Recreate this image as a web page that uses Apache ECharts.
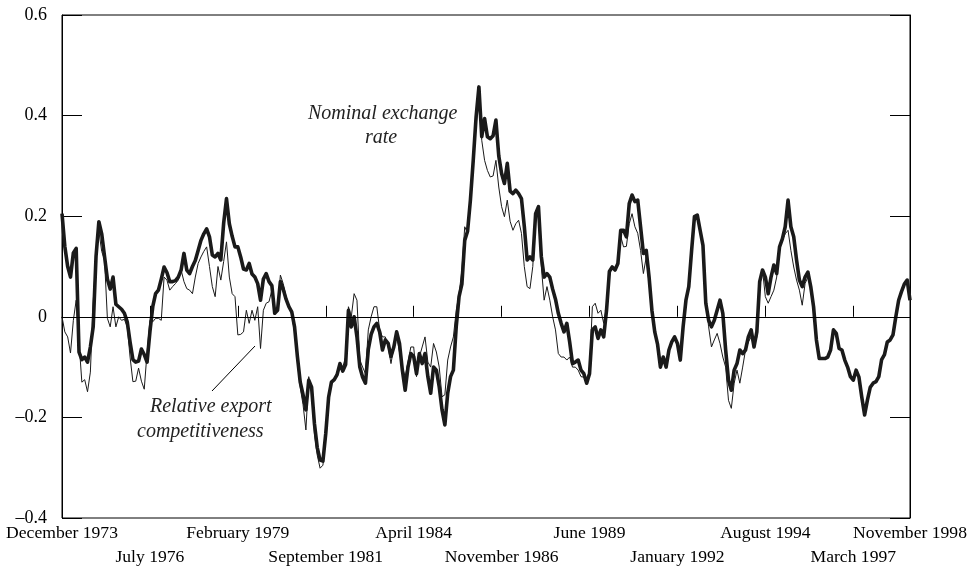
<!DOCTYPE html>
<html>
<head>
<meta charset="utf-8">
<script src="https://cdn.jsdelivr.net/npm/echarts@6/dist/echarts.min.js"></script>
<style>
html,body{margin:0;padding:0;background:#fff;}
#chart{width:975px;height:570px;}
</style>
</head>
<body>
<div id="chart"></div>
<script>
// Monthly observations, December 1973 .. November 1998 (300 months)
var startYear = 1973, startMonth = 11; // December (0-based)
var monthNames = ['January','February','March','April','May','June','July','August','September','October','November','December'];

var tickLabels = ['December 1973','July 1976','February 1979','September 1981','April 1984','November 1986','June 1989','January 1992','August 1994','March 1997','November 1998'];

var nominalExchangeRate = [
0.205,0.14,0.10,0.079,0.127,0.136,-0.07,-0.085,-0.08,-0.09,
-0.06,-0.02,0.12,0.189,0.165,0.12,0.075,0.055,0.079,0.025,
0.02,0.015,0.007,-0.01,-0.05,-0.085,-0.09,-0.088,-0.064,-0.075,
-0.09,-0.03,0.02,0.046,0.053,0.075,0.099,0.088,0.07,0.07,
0.072,0.079,0.093,0.126,0.093,0.086,0.1,0.112,0.132,0.152,
0.165,0.175,0.159,0.123,0.119,0.126,0.113,0.186,0.235,0.185,
0.16,0.139,0.139,0.119,0.095,0.093,0.106,0.085,0.079,0.066,
0.033,0.075,0.086,0.07,0.062,0.007,0.013,0.07,0.055,0.035,
0.02,0.01,-0.02,-0.079,-0.13,-0.155,-0.185,-0.126,-0.14,-0.212,
-0.26,-0.285,-0.287,-0.232,-0.16,-0.13,-0.125,-0.115,-0.093,-0.108,
-0.095,0.013,-0.02,0.0,-0.04,-0.1,-0.12,-0.132,-0.065,-0.035,
-0.02,-0.013,-0.03,-0.066,-0.046,-0.053,-0.079,-0.06,-0.03,-0.053,
-0.106,-0.146,-0.1,-0.073,-0.079,-0.113,-0.073,-0.093,-0.073,-0.119,
-0.152,-0.1,-0.106,-0.139,-0.185,-0.215,-0.152,-0.119,-0.106,-0.02,
0.04,0.065,0.152,0.17,0.232,0.311,0.397,0.457,0.358,0.394,
0.358,0.354,0.36,0.391,0.32,0.285,0.265,0.305,0.25,0.245,
0.252,0.245,0.235,0.18,0.113,0.119,0.113,0.205,0.219,0.12,
0.079,0.086,0.079,0.055,0.035,0.007,-0.013,-0.03,-0.013,-0.05,
-0.093,-0.09,-0.086,-0.106,-0.113,-0.132,-0.113,-0.026,-0.02,-0.043,
-0.026,-0.04,0.013,0.09,0.099,0.093,0.106,0.172,0.172,0.159,
0.225,0.242,0.229,0.232,0.179,0.126,0.132,0.079,0.013,-0.03,
-0.055,-0.1,-0.08,-0.1,-0.066,-0.05,-0.04,-0.053,-0.086,-0.02,
0.033,0.06,0.132,0.199,0.202,0.172,0.142,0.027,-0.007,-0.02,
-0.007,0.013,0.033,0.007,-0.066,-0.126,-0.146,-0.106,-0.093,-0.066,
-0.073,-0.066,-0.04,-0.026,-0.06,-0.03,0.07,0.093,0.079,0.046,
0.079,0.103,0.086,0.139,0.155,0.179,0.232,0.179,0.159,0.113,
0.073,0.06,0.079,0.089,0.06,0.02,-0.046,-0.083,-0.083,-0.083,
-0.08,-0.066,-0.026,-0.033,-0.063,-0.066,-0.086,-0.1,-0.119,-0.126,
-0.106,-0.12,-0.16,-0.195,-0.165,-0.14,-0.132,-0.129,-0.119,-0.085,
-0.075,-0.05,-0.046,-0.036,0.0,0.033,0.05,0.065,0.073,0.033
];

var relativeExportCompetitiveness = [
0.0,-0.03,-0.04,-0.072,-0.007,0.033,-0.05,-0.13,-0.125,-0.149,
-0.11,0.03,0.12,0.17,0.13,0.113,-0.003,-0.02,0.02,-0.02,
0.0,-0.007,-0.005,-0.02,-0.08,-0.129,-0.128,-0.102,-0.128,-0.144,
-0.07,-0.007,-0.01,-0.003,-0.003,-0.007,0.079,0.073,0.053,0.06,
0.066,0.073,0.093,0.07,0.056,0.053,0.046,0.079,0.106,0.119,
0.13,0.139,0.1,0.06,0.04,0.1,0.073,0.11,0.149,0.079,
0.046,0.04,-0.036,-0.035,-0.03,0.013,-0.013,0.013,-0.007,0.02,
-0.063,0.013,0.027,0.03,0.053,0.013,0.013,0.083,0.066,0.04,
0.02,0.005,-0.03,-0.09,-0.14,-0.175,-0.225,-0.119,-0.15,-0.232,
-0.275,-0.301,-0.295,-0.24,-0.16,-0.13,-0.125,-0.11,-0.09,-0.1,
-0.08,0.02,0.0,0.046,0.033,-0.086,-0.1,-0.113,-0.026,0.0,
0.02,0.02,-0.026,-0.04,-0.04,-0.06,-0.093,-0.06,-0.04,-0.07,
-0.1,-0.119,-0.09,-0.06,-0.06,-0.119,-0.08,-0.06,-0.04,-0.09,
-0.1,-0.053,-0.07,-0.1,-0.159,-0.155,-0.086,-0.06,-0.04,0.013,
0.046,0.093,0.179,0.166,0.232,0.3,0.38,0.44,0.351,0.311,
0.291,0.278,0.28,0.311,0.258,0.219,0.199,0.232,0.19,0.172,
0.185,0.192,0.166,0.1,0.06,0.056,0.1,0.205,0.2,0.1,
0.033,0.06,0.033,0.0,-0.026,-0.073,-0.08,-0.08,-0.086,-0.08,
-0.1,-0.1,-0.106,-0.119,-0.12,-0.126,-0.106,0.02,0.027,0.007,
0.013,-0.013,0.02,0.09,0.099,0.093,0.106,0.16,0.139,0.14,
0.185,0.205,0.179,0.166,0.132,0.086,0.119,0.066,0.013,-0.03,
-0.055,-0.1,-0.08,-0.1,-0.066,-0.05,-0.04,-0.053,-0.086,-0.02,
0.033,0.06,0.132,0.19,0.195,0.172,0.142,0.027,-0.02,-0.06,
-0.046,-0.033,-0.053,-0.08,-0.1,-0.166,-0.182,-0.132,-0.106,-0.132,
-0.1,-0.066,-0.05,-0.04,-0.06,-0.04,0.07,0.093,0.04,0.027,
0.04,0.053,0.079,0.139,0.152,0.165,0.172,0.132,0.099,0.073,
0.053,0.023,0.066,0.079,0.06,0.02,-0.046,-0.083,-0.083,-0.083,
-0.08,-0.066,-0.026,-0.033,-0.063,-0.066,-0.086,-0.1,-0.119,-0.126,
-0.106,-0.12,-0.16,-0.195,-0.165,-0.14,-0.132,-0.129,-0.119,-0.085,
-0.075,-0.05,-0.046,-0.036,0.0,0.033,0.05,0.065,0.073,0.033
];

var months = [];
for (var k = 0; k < nominalExchangeRate.length; k++) {
  var m = (startMonth + k) % 12;
  var y = startYear + Math.floor((startMonth + k) / 12);
  months.push(monthNames[m] + ' ' + y);
}
var tickSet = {};
tickLabels.forEach(function (t, j) { tickSet[t] = j; });
function isTick(idx) { return tickSet.hasOwnProperty(months[idx]); }
function isUpper(idx) { return isTick(idx) && tickSet[months[idx]] % 2 === 0; }
function isLower(idx) { return isTick(idx) && tickSet[months[idx]] % 2 === 1; }

var FONT = '"Liberation Serif", "Times New Roman", serif';
var ITALIC = 'italic 20px "Liberation Serif", serif';
var labelBase = {margin: 6, color: '#000', fontFamily: FONT, fontSize: 17.6, showMinLabel: true, showMaxLabel: true, hideOverlap: false};

var chart = echarts.init(document.getElementById('chart'), null, {renderer: 'canvas'});
chart.setOption({
  animation: false,
  backgroundColor: '#fff',
  grid: {left: 62, right: 65, top: 15, bottom: 52, show: true, borderColor: '#000', borderWidth: 1, backgroundColor: 'transparent'},
  xAxis: [{
    type: 'category',
    data: months,
    boundaryGap: false,
    position: 'bottom',
    axisLine: {lineStyle: {color: '#000', width: 1}},
    axisTick: {inside: true, length: 11, interval: isTick, lineStyle: {color: '#000'}},
    axisLabel: Object.assign({interval: isUpper}, labelBase),
    splitLine: {show: false}
  }, {
    type: 'category',
    data: months,
    boundaryGap: false,
    position: 'bottom',
    offset: 24,
    axisLine: {show: false},
    axisTick: {show: false},
    axisLabel: Object.assign({interval: isLower}, labelBase),
    splitLine: {show: false}
  }],
  yAxis: [{
    type: 'value', min: -0.4, max: 0.6, interval: 0.2, position: 'left',
    axisLine: {show: true, lineStyle: {color: '#000'}},
    axisTick: {show: true, inside: true, length: 20, lineStyle: {color: '#000'}},
    axisLabel: {margin: 15, color: '#000', fontFamily: FONT, fontSize: 18,
      formatter: function (v) {
        if (Math.abs(v) < 1e-9) return '0';
        return (v < 0 ? '\u2013' : '') + Math.abs(v).toFixed(1);
      }},
    splitLine: {show: false}
  }, {
    type: 'value', min: -0.4, max: 0.6, interval: 0.2, position: 'right',
    axisLine: {show: true, lineStyle: {color: '#000'}},
    axisTick: {show: true, inside: true, length: 20, lineStyle: {color: '#000'}},
    axisLabel: {show: false},
    splitLine: {show: false}
  }],
  series: [{
    name: 'Relative export competitiveness',
    type: 'line', xAxisIndex: 0, yAxisIndex: 0,
    data: relativeExportCompetitiveness, showSymbol: false, symbol: 'none',
    lineStyle: {color: '#1a1a1a', width: 1},
    markLine: {silent: true, symbol: 'none', label: {show: false},
      lineStyle: {color: '#000', width: 1, type: 'solid'}, data: [{yAxis: 0}]},
    z: 2
  }, {
    name: 'Nominal exchange rate',
    type: 'line', xAxisIndex: 0, yAxisIndex: 0,
    data: nominalExchangeRate, showSymbol: false, symbol: 'none',
    lineStyle: {color: '#1a1a1a', width: 3.6, join: 'round'},
    z: 3
  }],
  graphic: [
    {type: 'text', left: 308, top: 104, style: {text: 'Nominal exchange', font: ITALIC, fill: '#222'}},
    {type: 'text', left: 365, top: 128, style: {text: 'rate', font: ITALIC, fill: '#222'}},
    {type: 'text', left: 150, top: 397, style: {text: 'Relative export', font: ITALIC, fill: '#222'}},
    {type: 'text', left: 137, top: 422, style: {text: 'competitiveness', font: ITALIC, fill: '#222'}},
    {type: 'line', shape: {x1: 212, y1: 391, x2: 255, y2: 346}, style: {stroke: '#000', lineWidth: 1}}
  ]
});
</script>
</body>
</html>
